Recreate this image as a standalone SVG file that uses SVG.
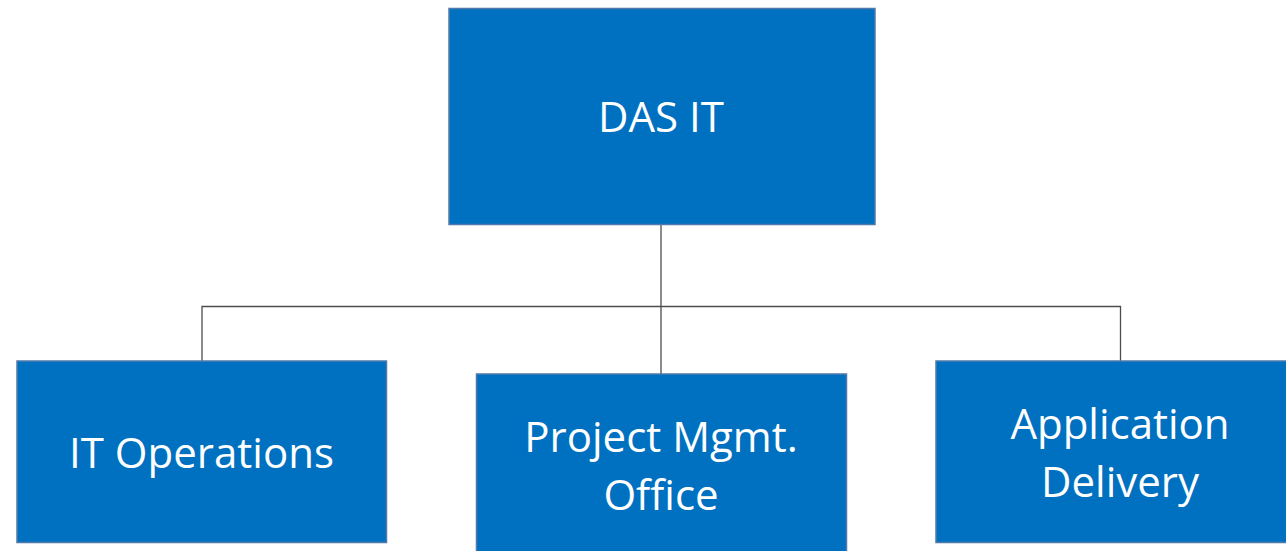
<svg xmlns="http://www.w3.org/2000/svg" width="1286" height="551" viewBox="0 0 1286 551">
<style>
.box{fill:#0070C0;stroke:#4F7AAB;stroke-width:1.5}
.lbl{font-family:"Open Sans","Noto Sans",sans-serif;font-size:42px;fill:#FFFFFF;text-anchor:middle}
.conn{fill:none;stroke:#4D4D4D;stroke-width:1.3}
</style>
<rect width="1286" height="551" fill="#FFFFFF"/>
<g id="connectors">
<path class="conn" d="M661,224 V374"/>
<path class="conn" d="M202,361 V306.5 H1120.5 V361"/>
</g>
<g id="das-it">
<rect class="box" x="449" y="8.5" width="426" height="216"/>
<text class="lbl" x="661" y="132">DAS IT</text>
</g>
<g id="it-operations">
<rect class="box" x="17" y="361" width="369.5" height="181.5"/>
<text class="lbl" x="201.5" y="468">IT Operations</text>
</g>
<g id="pmo">
<rect class="box" x="476.5" y="374" width="370" height="190"/>
<text class="lbl" x="661" y="452">Project Mgmt.</text>
<text class="lbl" x="661" y="510">Office</text>
</g>
<g id="app-delivery">
<rect class="box" x="936" y="361" width="360" height="181.5"/>
<text class="lbl" x="1120" y="439">Application</text>
<text class="lbl" x="1120" y="497">Delivery</text>
</g>
</svg>
